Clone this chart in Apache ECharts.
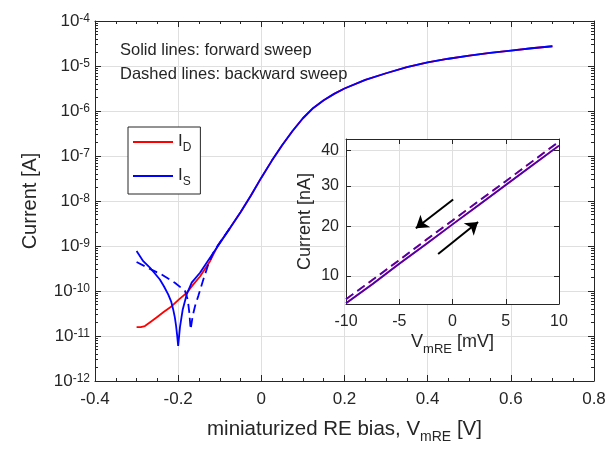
<!DOCTYPE html>
<html><head><meta charset="utf-8">
<script src="https://cdn.jsdelivr.net/npm/echarts@6/dist/echarts.min.js"></script>
<style>html,body{margin:0;padding:0;background:#fff}#c{width:611px;height:449px}</style>
</head><body><div id="c"></div>
<script>
const FONT = '"Liberation Sans", Arial, sans-serif';
const INK = '#262626';
const GRIDC = '#dfdfdf';

// ---- main plot (V in volts, I in amperes) ----
const mainXMin = -0.4, mainXMax = 0.8, mainXStep = 0.2;
const mainYExpMin = -12, mainYExpMax = -4;

// I_S forward sweep (solid blue)
const isFwdV = [-0.300,-0.284,-0.268,-0.256,-0.244,-0.234,-0.224,-0.217,-0.212,-0.208,-0.205,-0.2025,-0.200,-0.1975,-0.1956,-0.192,-0.189,-0.1795,-0.1675,-0.1475,-0.1234,-0.0994,-0.0753,-0.050,-0.025,0.000,0.025,0.050,0.075,0.100,0.125,0.150,0.175,0.200,0.250,0.300,0.350,0.400,0.450,0.500,0.550,0.600,0.650,0.700];
const isFwdI = [7.7e-10,4.6e-10,3.3e-10,2.45e-10,1.8e-10,1.26e-10,8.4e-11,5.9e-11,3.9e-11,2.6e-11,1.67e-11,1.05e-11,6.0e-12,1.05e-11,1.6e-11,2.6e-11,3.9e-11,8.4e-11,1.53e-10,2.55e-10,5.5e-10,1.17e-9,2.5e-9,5.6e-9,1.32e-8,3.3e-8,7.8e-8,1.74e-7,3.6e-7,6.9e-7,1.17e-6,1.74e-6,2.4e-6,3.16e-6,4.9e-6,6.9e-6,9.4e-6,1.2e-5,1.45e-5,1.7e-5,1.95e-5,2.2e-5,2.48e-5,2.75e-5];

// I_D forward sweep (solid red)
const idFwdV = [-0.300,-0.290,-0.280,-0.265,-0.252,-0.235,-0.2155,-0.198,-0.1795,-0.165,-0.1475,-0.1234,-0.1034,-0.0753,-0.050,-0.025,0.000,0.025,0.050,0.075,0.100,0.125,0.150,0.175,0.200,0.250,0.300,0.350,0.400,0.450,0.500,0.550,0.600,0.650,0.700];
const idFwdI = [1.58e-11,1.58e-11,1.66e-11,2.1e-11,2.57e-11,3.4e-11,4.6e-11,6.5e-11,9.1e-11,1.35e-10,2.1e-10,4.6e-10,1.07e-9,2.5e-9,5.6e-9,1.32e-8,3.3e-8,7.8e-8,1.74e-7,3.6e-7,6.9e-7,1.17e-6,1.74e-6,2.4e-6,3.16e-6,4.9e-6,6.9e-6,9.4e-6,1.2e-5,1.45e-5,1.7e-5,1.95e-5,2.2e-5,2.48e-5,2.75e-5];

// I_S backward sweep (dashed blue)
const isBwdV = [-0.300,-0.268,-0.240,-0.208,-0.1835,-0.177,-0.1732,-0.170,-0.165,-0.1595,-0.1515,-0.1395,-0.1275,-0.1155,-0.1034,-0.0753];
const isBwdI = [4.4e-10,3.1e-10,2.33e-10,1.53e-10,1.0e-10,6.5e-11,3.3e-11,1.4e-11,2.8e-11,4.6e-11,7.8e-11,1.8e-10,3.9e-10,7.1e-10,1.07e-9,2.5e-9];

// ---- inset (V in mV, I in nA) ----
const insetV = [-10,-7.5,-5,-2.5,0,2.5,5,7.5,10];
const insetFwdI = [5.6,8.6,12.2,16.1,20.5,25.2,30.3,35.7,41.4];
const insetBwdI = [6.2,9.3,12.9,17.0,21.4,26.2,31.3,36.8,42.6];
const insetYTicks = [10,20,30,40];
const insetYRange = [5.5,43.4];
const arrowBack = [[0.06,26.5],[-3.44,19.6]];
const arrowFwd = [[-1.35,14.1],[2.4,21.05]];

// inset current axis is compressed (non-linear) in the original figure
const P = 0.63;
const fy = v => Math.pow(v, P);

const lg = (V, I) => V.map((v, i) => [v, Math.log10(I[i])]);
const ins = (V, I) => V.map((v, i) => [v, fy(I[i])]);

const minorY = [];
for (let n = mainYExpMin; n < mainYExpMax; n++) for (let k = 2; k <= 9; k++) minorY.push(n + Math.log10(k));

const axLine = {show: true, onZero: false, lineStyle: {color: INK, width: 1}};
const noLine = {show: false, onZero: false};
const tickIn = (len) => ({show: true, inside: true, length: len, lineStyle: {color: INK, width: 1}});

const chart = echarts.init(document.getElementById('c'), null, {renderer: 'canvas'});
chart.setOption({
  backgroundColor: '#fff',
  animation: false,
  textStyle: {fontFamily: FONT},
  grid: [
    {left: 95, top: 21, width: 499, height: 361, containLabel: false},
    {left: 346, top: 139, width: 213, height: 165, show: true, backgroundColor: '#fff', borderWidth: 0, z: 3}
  ],
  legend: {
    left: 128, top: 127, orient: 'vertical',
    data: [{name: 'ID', icon: 'rect'}, {name: 'IS', icon: 'rect'}],
    itemWidth: 40, itemHeight: 2, itemGap: 13,
    padding: [6, 9, 6, 5],
    backgroundColor: '#fff', borderColor: INK, borderWidth: 1, borderRadius: 0,
    z: 6,
    formatter: n => n === 'ID' ? '{i|I}{s|D}' : '{i|I}{s|S}',
    textStyle: {
      color: INK, fontFamily: FONT,
      rich: {
        i: {fontSize: 17, lineHeight: 18, verticalAlign: 'top', color: INK, fontFamily: FONT},
        s: {fontSize: 12, lineHeight: 12, verticalAlign: 'top', padding: [9, 0, 0, 0], color: INK, fontFamily: FONT}
      }
    }
  },
  graphic: [
    {type: 'text', left: 120, top: 42, z: 5, style: {text: 'Solid lines: forward sweep', font: '16.5px ' + FONT, fill: INK}},
    {type: 'text', left: 120, top: 66, z: 5, style: {text: 'Dashed lines: backward sweep', font: '16.5px ' + FONT, fill: INK}}
  ],
  xAxis: [
    {
      gridIndex: 0, type: 'value', min: mainXMin, max: mainXMax, interval: mainXStep, position: 'bottom',
      axisLine: axLine, axisTick: tickIn(6),
      minorTick: {show: true, splitNumber: 4, length: 3, lineStyle: {color: INK}},
      splitLine: {show: true, lineStyle: {color: GRIDC, width: 1}},
      axisLabel: {fontSize: 17, color: INK, margin: 10, fontFamily: FONT},
      name: '{a|miniaturized RE bias, V}{sub|mRE}{a| [V]}',
      nameLocation: 'middle', nameGap: 38,
      nameTextStyle: {
        color: INK, fontFamily: FONT,
        rich: {
          a: {fontSize: 20.5, lineHeight: 21, verticalAlign: 'top', color: INK, fontFamily: FONT},
          sub: {fontSize: 14, lineHeight: 14, verticalAlign: 'top', padding: [11, 0, 0, 0], color: INK, fontFamily: FONT}
        }
      }
    },
    {
      gridIndex: 0, type: 'value', min: mainXMin, max: mainXMax, interval: mainXStep, position: 'top',
      axisLine: axLine, axisTick: tickIn(6),
      minorTick: {show: true, splitNumber: 4, length: 3, lineStyle: {color: INK}},
      splitLine: {show: false}, axisLabel: {show: false}
    },
    {
      gridIndex: 1, type: 'value', min: -10, max: 10, interval: 5, position: 'bottom', z: 4,
      axisLine: axLine, axisTick: tickIn(5),
      splitLine: {show: true, lineStyle: {color: GRIDC, width: 1}},
      axisLabel: {fontSize: 16, color: INK, margin: 10, fontFamily: FONT},
      name: '{a|V}{sub|mRE}{a| [mV]}',
      nameLocation: 'middle', nameGap: 29,
      nameTextStyle: {
        color: INK, fontFamily: FONT,
        rich: {
          a: {fontSize: 18, lineHeight: 19, verticalAlign: 'top', color: INK, fontFamily: FONT},
          sub: {fontSize: 13, lineHeight: 13, verticalAlign: 'top', padding: [10, 0, 0, 0], color: INK, fontFamily: FONT}
        }
      }
    },
    {
      gridIndex: 1, type: 'value', min: -10, max: 10, interval: 5, position: 'top', z: 4,
      axisLine: axLine, axisTick: tickIn(5), splitLine: {show: false}, axisLabel: {show: false}
    }
  ],
  yAxis: [
    {
      gridIndex: 0, type: 'value', min: mainYExpMin, max: mainYExpMax, interval: 1, position: 'left',
      axisLine: axLine, axisTick: tickIn(6),
      splitLine: {show: true, lineStyle: {color: GRIDC, width: 1}},
      axisLabel: {
        margin: 5, color: INK, fontFamily: FONT,
        formatter: v => '{b|10}{s|' + v + '}',
        rich: {
          b: {fontSize: 17, lineHeight: 17, verticalAlign: 'bottom', padding: [7, 0, 0, 0], color: INK, fontFamily: FONT},
          s: {fontSize: 12, lineHeight: 12, verticalAlign: 'top', color: INK, fontFamily: FONT}
        }
      },
      name: 'Current [A]', nameLocation: 'middle', nameGap: 55,
      nameTextStyle: {fontSize: 20, color: INK, fontFamily: FONT}
    },
    {
      gridIndex: 0, type: 'value', min: mainYExpMin, max: mainYExpMax, position: 'left',
      axisLine: noLine, splitLine: {show: false}, axisLabel: {show: false},
      axisTick: Object.assign(tickIn(3), {customValues: minorY})
    },
    {
      gridIndex: 0, type: 'value', min: mainYExpMin, max: mainYExpMax, interval: 1, position: 'right',
      axisLine: axLine, splitLine: {show: false}, axisLabel: {show: false},
      axisTick: tickIn(6)
    },
    {
      gridIndex: 0, type: 'value', min: mainYExpMin, max: mainYExpMax, position: 'right',
      axisLine: noLine, splitLine: {show: false}, axisLabel: {show: false},
      axisTick: Object.assign(tickIn(3), {customValues: minorY})
    },
    {
      gridIndex: 1, type: 'value', min: fy(insetYRange[0]), max: fy(insetYRange[1]), position: 'left', z: 4,
      axisLine: axLine,
      axisTick: Object.assign(tickIn(5), {customValues: insetYTicks.map(fy)}),
      splitLine: {show: true, lineStyle: {color: GRIDC, width: 1}},
      axisLabel: {
        fontSize: 16, color: INK, margin: 7, fontFamily: FONT,
        customValues: insetYTicks.map(fy),
        formatter: v => String(Math.round(Math.pow(v, 1 / P)))
      },
      name: 'Current [nA]', nameLocation: 'middle', nameGap: 32,
      nameTextStyle: {fontSize: 18, color: INK, fontFamily: FONT}
    },
    {
      gridIndex: 1, type: 'value', min: fy(insetYRange[0]), max: fy(insetYRange[1]), position: 'right', z: 4,
      axisLine: axLine, splitLine: {show: false}, axisLabel: {show: false},
      axisTick: Object.assign(tickIn(5), {customValues: insetYTicks.map(fy)})
    }
  ],
  series: [
    {name: 'ID', type: 'line', xAxisIndex: 0, yAxisIndex: 0, data: lg(idFwdV, idFwdI), symbol: 'none',
     lineStyle: {color: '#ff0000', width: 1.8}, itemStyle: {color: '#ff0000'}, z: 2},
    {name: 'IS', type: 'line', xAxisIndex: 0, yAxisIndex: 0, data: lg(isFwdV, isFwdI), symbol: 'none',
     lineStyle: {color: '#0000ff', width: 1.8}, itemStyle: {color: '#0000ff'}, z: 2},
    {name: 'IS backward', type: 'line', xAxisIndex: 0, yAxisIndex: 0, data: lg(isBwdV, isBwdI), symbol: 'none',
     lineStyle: {color: '#0000ff', width: 1.8, type: [9, 5]}, itemStyle: {color: '#0000ff'}, z: 2},

    {name: 'ID inset fwd', type: 'line', xAxisIndex: 2, yAxisIndex: 4, data: ins(insetV, insetFwdI), symbol: 'none',
     lineStyle: {color: '#ff0000', width: 1.8}, z: 5},
    {name: 'ID inset bwd', type: 'line', xAxisIndex: 2, yAxisIndex: 4, data: ins(insetV, insetBwdI), symbol: 'none',
     lineStyle: {color: '#ff0000', width: 1.8, type: [9, 5]}, z: 5},
    {name: 'IS inset fwd', type: 'line', xAxisIndex: 2, yAxisIndex: 4, data: ins(insetV, insetFwdI), symbol: 'none',
     lineStyle: {color: '#0000ff', width: 1.8, opacity: 0.7}, z: 6},
    {name: 'IS inset bwd', type: 'line', xAxisIndex: 2, yAxisIndex: 4, data: ins(insetV, insetBwdI), symbol: 'none',
     lineStyle: {color: '#0000ff', width: 1.8, opacity: 0.7, type: [9, 5]}, z: 6},
    {name: 'arrows', type: 'lines', coordinateSystem: 'cartesian2d', xAxisIndex: 2, yAxisIndex: 4, z: 7,
     symbol: ['none', 'arrow'], symbolSize: 12,
     lineStyle: {color: '#000', width: 2, opacity: 1, curveness: 0},
     data: [arrowBack, arrowFwd].map(a => ({coords: a.map(p => [p[0], fy(p[1])])}))}
  ]
});
</script></body></html>
